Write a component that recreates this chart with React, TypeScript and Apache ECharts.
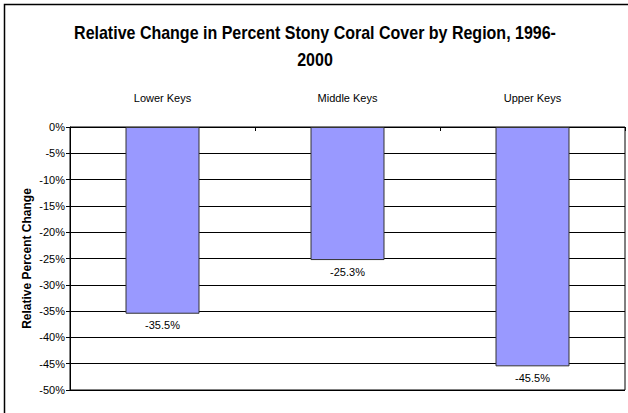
import React, { useEffect, useRef } from "react";
import * as echarts from "echarts";

const categories: string[] = ["Lower Keys", "Middle Keys", "Upper Keys"];
const changeValues: number[] = [-35.5, -25.3, -45.5];
const yTicks = { min: -50, max: 0, interval: 5 };
const titleLines: string[] = ["Relative Change in Percent Stony Coral Cover by Region, 1996-", "2000"];
const yAxisTitle = "Relative Percent Change";

const SANS = "'Liberation Sans', Arial, sans-serif";

export default function App() {
  const ref = useRef<HTMLDivElement>(null);
  useEffect(() => {
    if (!ref.current) return;
    const chart = echarts.init(ref.current, undefined, { renderer: "svg" });
    chart.setOption({
      animation: false,
      backgroundColor: "#ffffff",
      graphic: [
        {
          type: "rect",
          shape: { x: 4.5, y: 4.5, width: 700, height: 500 },
          style: { fill: "none", stroke: "#000", lineWidth: 1.5 },
          silent: true,
        },
        ...titleLines.map((t, i) => ({
          type: "text",
          x: 315,
          y: 33 + i * 27,
          scaleX: 0.89,
          silent: true,
          style: {
            text: t,
            fontFamily: SANS,
            fontWeight: "bold",
            fontSize: 18,
            fill: "#000",
            textAlign: "center",
            textVerticalAlign: "middle",
            align: "center",
            verticalAlign: "middle",
          },
        })),
      ],
      grid: { left: 70, top: 127, right: 3, bottom: 23, show: true, borderColor: "#000", borderWidth: 1, backgroundColor: "transparent" },
      xAxis: {
        type: "category",
        position: "top",
        data: categories,
        axisLine: { show: true, lineStyle: { color: "#000", width: 1 } },
        axisTick: { show: true, inside: true, length: 4, lineStyle: { color: "#000" } },
        axisLabel: { margin: 24, fontFamily: SANS, fontSize: 11, color: "#000" },
        splitLine: { show: false },
      },
      yAxis: {
        type: "value",
        min: yTicks.min,
        max: yTicks.max,
        interval: yTicks.interval,
        name: yAxisTitle,
        nameLocation: "middle",
        nameGap: 37,
        nameMoveOverlap: false,
        nameTextStyle: { fontFamily: SANS, fontWeight: "bold", fontSize: 12, color: "#000" },
        axisLine: { show: true, lineStyle: { color: "#000", width: 1 } },
        axisTick: { show: true, inside: false, length: 4, lineStyle: { color: "#000" } },
        axisLabel: { formatter: "{value}%", margin: 5, fontFamily: SANS, fontSize: 11, color: "#000" },
        splitLine: { show: true, lineStyle: { color: "#000", width: 1 } },
      },
      series: [
        {
          type: "bar",
          data: changeValues,
          barWidth: "40%",
          itemStyle: { color: "#9999FF", borderColor: "#333", borderWidth: 1 },
          label: {
            show: true,
            position: "bottom",
            distance: 6,
            fontFamily: SANS,
            fontSize: 11,
            color: "#000",
            formatter: (p: any) => Number(p.value).toFixed(1) + "%",
          },
        },
      ],
    });
    return () => chart.dispose();
  }, []);
  return (
    <div
      ref={ref}
      style={{ position: "absolute", left: 0, top: 0, width: 628, height: 413 }}
    />
  );
}
